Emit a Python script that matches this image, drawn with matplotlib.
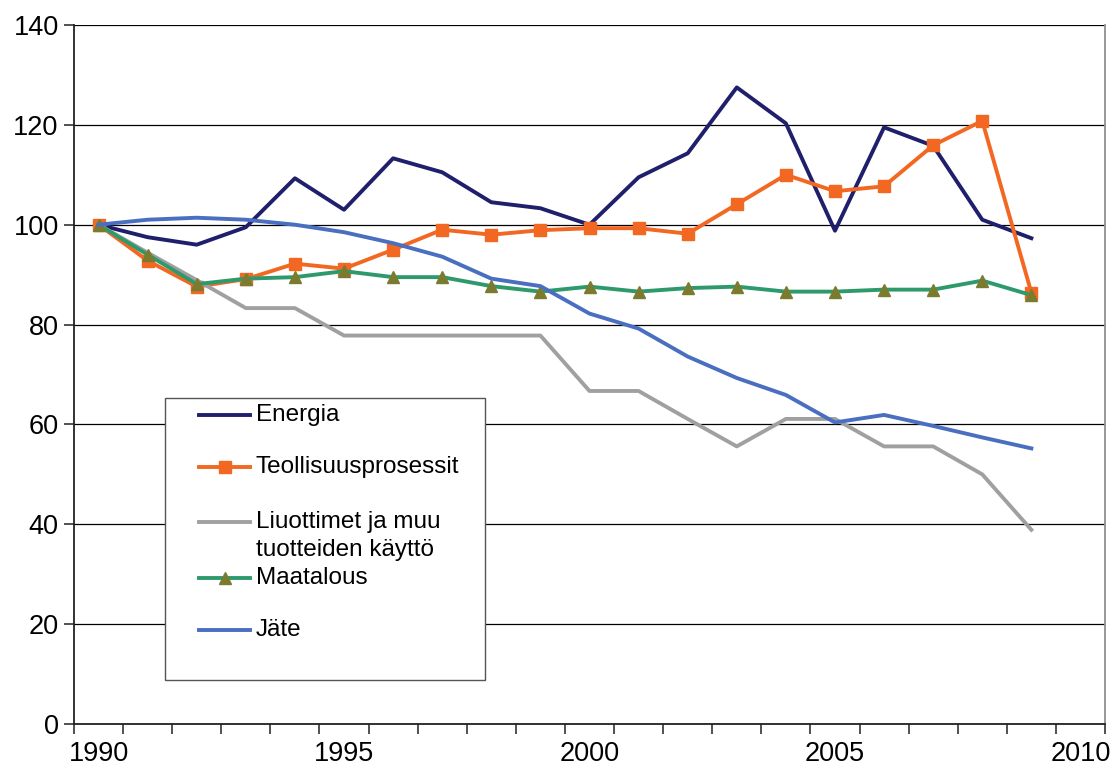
import matplotlib
matplotlib.use("Agg")
import matplotlib.pyplot as plt
from matplotlib.lines import Line2D
from matplotlib.patches import Rectangle

plt.rcParams["font.family"] = ["Liberation Sans", "DejaVu Sans"]

# ----------------------------------------------------------
# DATA (index, 1990 = 100)
# ----------------------------------------------------------
years = list(range(1990, 2010))

energia = [100, 97.5, 96, 99.5, 109.3, 103, 113.3, 110.5, 104.5, 103.3,
           100, 109.5, 114.3, 127.5, 120.3, 98.8, 119.5, 115.8, 101, 97.3]
teollisuus = [100, 92.8, 87.6, 89.1, 92.2, 91.2, 95, 99, 98, 98.9,
              99.3, 99.3, 98.2, 104.1, 110, 106.7, 107.7, 115.9, 120.8, 86.4]
liuottimet = [100, 94.4, 88.9, 83.3, 83.3, 77.8, 77.8, 77.8, 77.8, 77.8,
              66.7, 66.7, 61.1, 55.6, 61.1, 61.1, 55.6, 55.6, 50, 38.9]
maatalous = [100, 94, 88.1, 89.2, 89.5, 90.7, 89.5, 89.5, 87.7, 86.6,
             87.6, 86.6, 87.3, 87.6, 86.6, 86.6, 87, 87, 88.8, 85.9]
jate = [100, 101, 101.4, 101, 100, 98.5, 96.3, 93.6, 89.2, 87.7,
        82.2, 79.2, 73.6, 69.3, 65.9, 60.4, 61.9, 59.7, 57.4, 55.2]

labels = ["Energia", "Teollisuusprosessit",
          "Liuottimet ja muu\ntuotteiden käyttö", "Maatalous", "Jäte"]

# style per series: color, marker, marker color
styles = [
    ("#1F1F6C", None, None),
    ("#F26822", "s", "#F26822"),
    ("#A0A0A0", None, None),
    ("#2E9A6C", "^", "#7B7B30"),
    ("#4A6EC0", None, None),
]
series = [energia, teollisuus, liuottimet, maatalous, jate]

# ----------------------------------------------------------
# PLOT
# ----------------------------------------------------------
W, H = 1110, 776
fig = plt.figure(figsize=(W / 100, H / 100), dpi=100)
ax = fig.add_axes([74 / W, 52 / H, 1031 / W, 699 / H])

for i, (vals, (col, mk, mcol)) in enumerate(zip(series, styles)):
    ax.plot(years, vals, color=col, lw=2.8, marker=mk, ms=8.5,
            markerfacecolor=mcol, markeredgecolor=mcol, zorder=3 + i)

ax.set_xlim(1989.5, 2010.5)
ax.set_ylim(0, 140)
ax.set_yticks(range(0, 141, 20))
ax.set_xticks(range(1990, 2011, 5))
ax.set_xticks([y - 0.5 for y in range(1990, 2012)], minor=True)
ax.tick_params(axis="x", which="major", length=0, pad=12, labelsize=19.5)
ax.tick_params(axis="x", which="minor", length=7, width=1.2, color="#333333",
               direction="out")
ax.tick_params(axis="y", length=7, width=1.2, color="#333333", labelsize=19.5, pad=4)
ax.yaxis.grid(True, color="black", lw=0.9)
ax.set_axisbelow(True)

for s in ["left", "bottom"]:
    ax.spines[s].set_color("#222222")
    ax.spines[s].set_linewidth(1.3)
ax.spines["right"].set_color("#909090")
ax.spines["right"].set_linewidth(1.3)
ax.spines["top"].set_visible(False)

# ----------------------------------------------------------
# legend box (drawn by hand, Excel style)
# ----------------------------------------------------------
fig.patches.append(Rectangle((165 / W, 1 - 680 / H), 320 / W, 282 / H,
                             transform=fig.transFigure, facecolor="white",
                             edgecolor="#555555", lw=1.0, zorder=10))
handle_y = [415, 467, 522, 578, 630]
text_y = [415, 467, 536, 578, 630]
for (col, mk, mcol), lab, hy, ty in zip(styles, labels, handle_y, text_y):
    yy = 1 - hy / H
    fig.add_artist(Line2D([199 / W, 250 / W], [yy, yy], color=col, lw=2.8,
                          transform=fig.transFigure, zorder=11))
    if mk:
        fig.add_artist(Line2D([224.5 / W], [yy], marker=mk, ms=8.5, color=mcol,
                              transform=fig.transFigure, zorder=12))
    fig.text(256 / W, 1 - ty / H, lab, fontsize=17.5, va="center", ha="left",
             zorder=12, linespacing=1.3)

fig.savefig("out.png", dpi=100)
